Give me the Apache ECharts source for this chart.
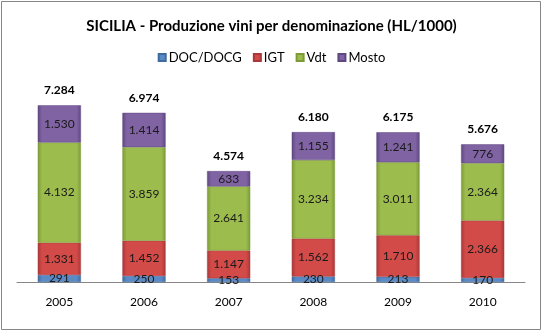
<!DOCTYPE html>
<html><head><meta charset="utf-8">
<script src="https://cdn.jsdelivr.net/npm/echarts@6/dist/echarts.min.js"></script>
<style>html,body{margin:0;padding:0;background:#fff}#c{width:543px;height:332px}</style>
</head><body><div id="c"></div>
<script>
var categories = ['2005','2006','2007','2008','2009','2010'];
var docDocg = [291, 250, 153, 230, 213, 170];
var igt = [1331, 1452, 1147, 1562, 1710, 2366];
var vdt = [4132, 3859, 2641, 3234, 3011, 2364];
var mosto = [1530, 1414, 633, 1155, 1241, 776];
var totals = [7284, 6974, 4574, 6180, 6175, 5676];
var seriesNames = ['DOC/DOCG', 'IGT', 'Vdt', 'Mosto'];

function fmt(v){ return String(v).replace(/\B(?=(\d{3})+(?!\d))/g, '.'); }
function grad(mid, edge){
  return {type:'linear', x:0, y:0, x2:1, y2:0, colorStops:[
    {offset:0, color:edge},{offset:0.1, color:mid},{offset:0.9, color:mid},{offset:1, color:edge}]};
}
var FONT = 'Lato';
var colors = [
  {mid:'#5A8AC6', edge:'#3E6A9E', leg:'#4F81BD'},
  {mid:'#D24B48', edge:'#A8383A', leg:'#C0504D'},
  {mid:'#9CBD4E', edge:'#7C9A38', leg:'#9BBB59'},
  {mid:'#8063A3', edge:'#5F4880', leg:'#8064A2'}
];
var datasets = [docDocg, igt, vdt, mosto];
var series = datasets.map(function(d, i){
  return {
    name: seriesNames[i], type:'bar', stack:'t', barWidth:'51%',
    data: d,
    itemStyle:{color: grad(colors[i].mid, colors[i].edge), borderColor: colors[i].edge, borderWidth:0.5},
    label:{show:true, position:'inside', color:'#1a1a1a', fontFamily:FONT, fontSize:12,
      formatter:function(p){ return fmt(p.value); }}
  };
});
series.push({
  name:'Totale', type:'bar', stack:'t', barWidth:'51%',
  data: totals.map(function(){ return 0; }),
  itemStyle:{color:'transparent'},
  label:{show:true, position:'top', distance:9, color:'#000', fontFamily:FONT, fontSize:12, fontWeight:'bold',
    formatter:function(p){ return fmt(totals[p.dataIndex]); }},
  tooltip:{show:false}
});

var chart = echarts.init(document.getElementById('c'), null, {renderer:'canvas'});
chart.setOption({
  animation:false,
  color: colors.map(function(c){ return c.leg; }),
  graphic:[{type:'rect', shape:{x:1.5, y:1.5, width:539, height:328}, style:{fill:'none', stroke:'#868686', lineWidth:1}}],
  title:{text:'SICILIA - Produzione vini per denominazione (HL/1000)', left:'center', top:14,
    textStyle:{fontFamily:FONT, fontSize:15, fontWeight:'bold', color:'#000'}},
  legend:{data:seriesNames, top:46, left:'center', itemWidth:7, itemHeight:7, itemGap:11,
    icon:'rect', textStyle:{fontFamily:FONT, fontSize:13, color:'#000', padding:[0,0,0,-2]}},
  grid:{left:17, right:18, top:88, bottom:50},
  xAxis:{type:'category', data:categories,
    axisLine:{lineStyle:{color:'#868686', width:1}}, axisTick:{show:false},
    axisLabel:{fontFamily:FONT, fontSize:12, color:'#000', margin:14}},
  yAxis:{type:'value', min:0, max:8000, interval:1000, show:false, splitLine:{show:false}},
  series: series
});
</script></body></html>
